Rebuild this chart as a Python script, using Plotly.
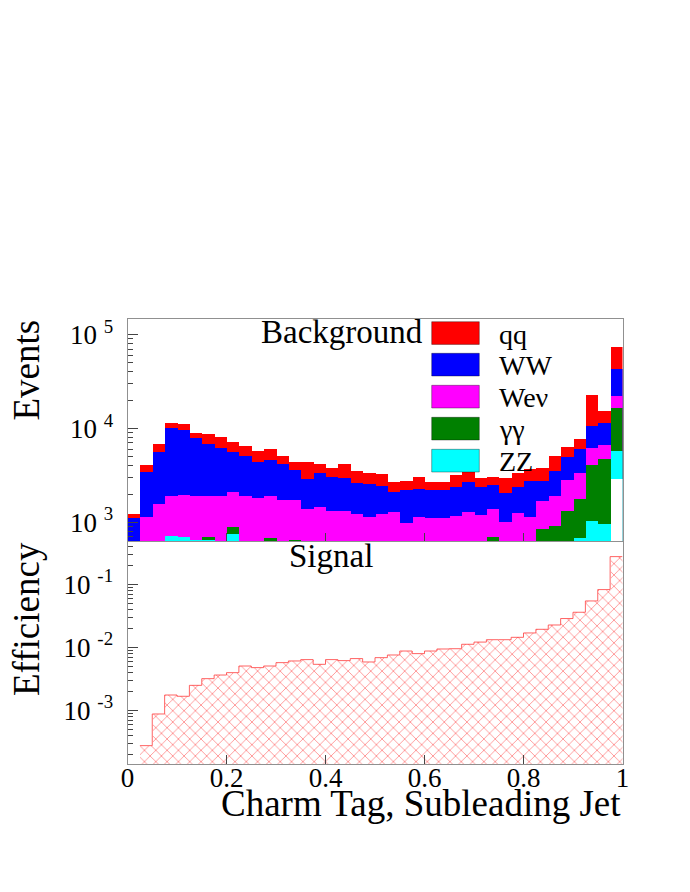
import numpy as np
import plotly.graph_objects as go

# ---------------- data ----------------
bin_edges = np.linspace(0.0, 1.0, 41)
bin_centers = 0.5 * (bin_edges[:-1] + bin_edges[1:])
bin_width = 0.025

# stacked (cumulative) background heights, Events per bin
stack_qq = [1247, 4170, 6920, 11660, 11200, 9140, 8850, 8280, 7330, 6590,
            5780, 6170, 5160, 4460, 4490, 4280, 3850, 4250, 3520, 3400,
            3270, 2730, 2800, 3050, 2730, 2704, 3240, 3513, 2982, 3055,
            2982, 3404, 3754, 3848, 5200, 6436, 7828, 23000, 15650, 75080]
stack_ww = [1130, 3450, 5630, 10130, 9840, 8020, 6980, 6330, 5740, 5120,
            4490, 4710, 4250, 3690, 2960, 3400, 3080, 2990, 2640, 2580,
            2480, 2150, 2210, 2280, 2260, 2244, 2391, 2750, 2391, 2537,
            2085, 2391, 2818, 2818, 3600, 4988, 6124, 10840, 11670, 43480]
stack_wev = [0, 1146, 1567, 1937, 2000, 1937, 1937, 1937, 2150, 1937,
             1858, 1919, 1770, 1740, 1409, 1456, 1352, 1352, 1235, 1167,
             1256, 1288, 984, 1158, 1137, 1130, 1196, 1297, 1225, 1409,
             1032, 1278, 1167, 1727, 1950, 2867, 3371, 6218, 6760, 22600]
stack_gg = [0, 0, 0, 0, 0, 0, 703, 0, 913, 0,
            0, 692, 0, 663, 0, 0, 0, 0, 0, 0,
            0, 0, 0, 0, 0, 0, 0, 648, 0, 703,
            0, 0, 0, 863, 936, 1342, 1800, 4170, 4796, 16730]
stack_zz = [0, 0, 0, 728, 703, 653, 650, 0, 757, 640,
            0, 0, 0, 0, 0, 0, 0, 0, 0, 0,
            0, 0, 0, 0, 0, 0, 0, 0, 0, 0,
            0, 0, 0, 0, 0, 0, 692, 1050, 976, 5777]
stack_other = [0, 0, 0, 0, 0, 0, 0, 0, 0, 0,
               0, 0, 0, 0, 0, 0, 0, 0, 0, 0,
               0, 0, 0, 0, 0, 0, 0, 0, 0, 0,
               0, 0, 0, 0, 0, 0, 0, 0, 0, 2940]

# signal efficiency per bin
signal_eff = [0, 2.75e-4, 8.75e-4, 1.75e-3, 1.67e-3, 2.49e-3, 3.18e-3, 3.63e-3, 3.96e-3, 5.05e-3,
              4.76e-3, 5.05e-3, 5.71e-3, 6.07e-3, 6.38e-3, 5.37e-3, 6.38e-3, 6.15e-3, 6.62e-3, 5.85e-3,
              6.85e-3, 7.55e-3, 8.73e-3, 7.94e-3, 8.73e-3, 9.4e-3, 9.5e-3, 1.117e-2, 1.21e-2, 1.32e-2,
              1.32e-2, 1.44e-2, 1.69e-2, 1.93e-2, 2.26e-2, 2.86e-2, 3.6e-2, 5.44e-2, 8.24e-2, 0.275]

legend_labels = ["qq", "WW", "Weν", "γγ", "ZZ"]
legend_colors = ["#ff0000", "#0000ff", "#ff00ff", "#008000", "#00ffff"]

x_tickvals = [0, 0.2, 0.4, 0.6, 0.8, 1.0]
x_ticktext = ["0", "0.2", "0.4", "0.6", "0.8", "1"]
top_tickvals = [1e3, 1e4, 1e5]
top_ticktext = ["10 <sup>3</sup>", "10 <sup>4</sup>", "10 <sup>5</sup>"]
bot_tickvals = [1e-3, 1e-2, 1e-1]
bot_ticktext = ["10 <sup>-3</sup>", "10 <sup>-2</sup>", "10 <sup>-1</sup>"]

# ---------------- layout helpers ----------------
W, H = 690, 892
OFF = 8  # page body margin offset of the figure in the browser window
FONT = "Liberation Serif, Times New Roman, serif"


def px(x):
    return (x - OFF) / W


def py(y):
    return 1 - (y - OFF) / H


def nz(vals):
    return [v if v > 0 else None for v in vals]


fig = go.Figure()

layers = [
    (stack_qq, "#ff0000"),
    (stack_ww, "#0000ff"),
    (stack_wev, "#ff00ff"),
    (stack_gg, "#008000"),
    (stack_zz, "#00ffff"),
    (stack_other, "#ffffff"),
]
for vals, col in layers:
    fig.add_trace(go.Bar(
        x=bin_centers, y=nz(vals), width=bin_width,
        marker=dict(color=col, line=dict(width=0)),
        xaxis="x2", yaxis="y2", showlegend=False, hoverinfo="skip"))

# signal hatched histogram
fig.add_trace(go.Bar(
    x=bin_centers, y=nz(signal_eff), width=bin_width,
    marker=dict(color="white", line=dict(width=0),
                pattern=dict(shape="x", fgcolor="rgba(255,0,0,0.9)", bgcolor="white",
                             size=8, solidity=0.2)),
    xaxis="x", yaxis="y", showlegend=False, hoverinfo="skip"))

step_x = list(bin_edges[1:])
step_y = list(signal_eff[1:]) + [signal_eff[-1]]
fig.add_trace(go.Scatter(
    x=step_x, y=step_y, mode="lines", line=dict(color="rgba(255,60,60,0.8)", width=1, shape="hv"),
    xaxis="x", yaxis="y", showlegend=False, hoverinfo="skip"))

xdom = [px(127.5), px(622.5)]
top_dom = [py(541), py(318.5)]
bot_dom = [py(764), py(541)]

top_minor = [m * 10 ** e for e in (2, 3, 4, 5) for m in range(2, 10)]
bot_minor = [m * 10.0 ** e for e in (-4, -3, -2, -1) for m in range(2, 10)]

axis_common = dict(showgrid=False, zeroline=False, showline=True, linecolor="#909090",
                   linewidth=1, mirror=True, tickcolor="#444444")

fig.update_layout(
    width=W, height=H,
    margin=dict(l=0, r=0, t=0, b=0, autoexpand=False),
    paper_bgcolor="white", plot_bgcolor="white",
    barmode="overlay", bargap=0,
    font=dict(family=FONT, color="black"),
    xaxis=dict(domain=xdom, anchor="y", range=[0, 1], tickvals=x_tickvals, ticktext=x_ticktext,
               ticks="inside", ticklen=9, ticklabelstandoff=-10,
               tickfont=dict(size=27, family=FONT), **axis_common),
    yaxis=dict(domain=bot_dom, anchor="x", type="log", range=[-3.852, -0.313],
               tickvals=bot_tickvals, ticktext=bot_ticktext, ticks="inside", ticklen=10,
               ticklabelstandoff=8,
               minor=dict(tickvals=bot_minor, ticks="inside", ticklen=5, tickcolor="#444444"),
               tickfont=dict(size=27, family=FONT), **axis_common),
    xaxis2=dict(domain=xdom, anchor="y2", range=[0, 1], matches="x", tickvals=x_tickvals,
                showticklabels=False, ticks="inside", ticklen=8, **axis_common),
    yaxis2=dict(domain=top_dom, anchor="x2", type="log", range=[2.801, 5.17],
                tickvals=top_tickvals, ticktext=top_ticktext, ticks="inside", ticklen=10,
                ticklabelstandoff=8,
                minor=dict(tickvals=top_minor, ticks="inside", ticklen=5, tickcolor="#444444"),
                tickfont=dict(size=27, family=FONT), **axis_common),
)

shapes = []
annotations = []
box_tops = [321.7, 353.3, 385.3, 417.3, 449.3]
for lab, col, yt in zip(legend_labels, legend_colors, box_tops):
    shapes.append(dict(type="rect", xref="paper", yref="paper",
                       x0=px(431.7), x1=px(479.3), y0=py(yt + 22.7), y1=py(yt),
                       fillcolor=col, line=dict(color="rgba(0,0,0,0.35)", width=1)))
    annotations.append(dict(text=lab, xref="paper", yref="paper", x=px(497), y=py(yt + 12.5),
                            xanchor="left", yanchor="middle", showarrow=False,
                            font=dict(size=28, family=FONT, color="black")))

annotations += [
    dict(text="Background", xref="paper", yref="paper", x=px(259), y=py(332),
         xanchor="left", yanchor="middle", showarrow=False, font=dict(size=33, family=FONT)),
    dict(text="Signal", xref="paper", yref="paper", x=px(287), y=py(556),
         xanchor="left", yanchor="middle", showarrow=False, font=dict(size=33, family=FONT)),
    dict(text="Charm Tag, Subleading Jet", xref="paper", yref="paper", x=px(623), y=py(803),
         xanchor="right", yanchor="middle", showarrow=False, font=dict(size=37, family=FONT)),
    dict(text="Events", xref="paper", yref="paper", x=px(26), y=py(318), textangle=-90,
         xanchor="center", yanchor="top", showarrow=False, font=dict(size=37, family=FONT)),
    dict(text="Efficiency", xref="paper", yref="paper", x=px(26), y=py(540), textangle=-90,
         xanchor="center", yanchor="top", showarrow=False, font=dict(size=37, family=FONT)),
]

fig.update_layout(shapes=shapes, annotations=annotations)
fig.write_html("out.html")
